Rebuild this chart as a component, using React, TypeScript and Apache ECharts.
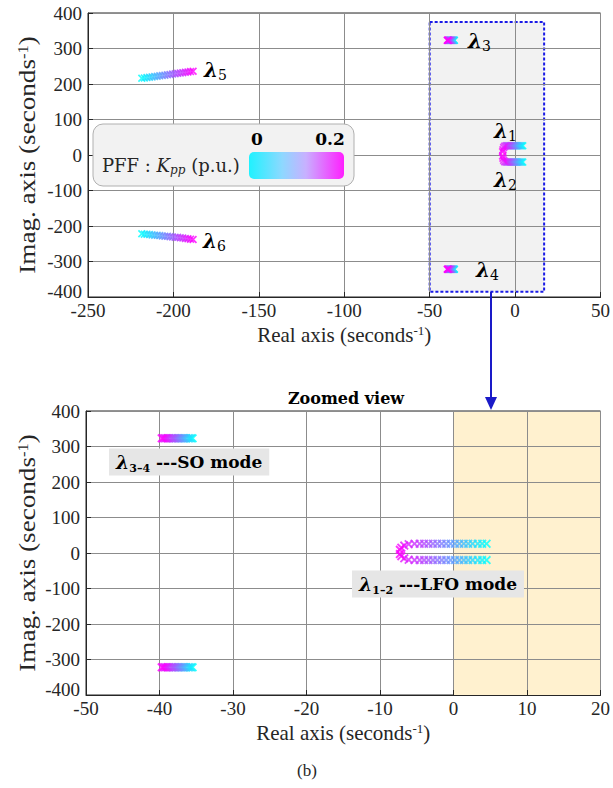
import React, { useEffect, useRef } from 'react';
import * as echarts from 'echarts';

// Gain sweep (PFF: Kpp, p.u.)
const kpp = [0, 0.01, 0.02, 0.03, 0.04, 0.05, 0.06, 0.07, 0.08, 0.09, 0.1, 0.11, 0.12, 0.13, 0.14, 0.15, 0.16, 0.17, 0.18, 0.19, 0.2];

// λ1 / λ2 : LFO mode
const lambda1Re = [4.5, 3.9, 3.3, 2.6, 2.0, 1.4, 0.8, 0.2, -0.4, -1.0, -1.6, -2.2, -2.8, -3.4, -4.0, -4.6, -5.3, -6.1, -6.7, -7.1, -7.3];
const lambda1Im = [26, 26, 26, 26, 26, 26, 26, 26, 26, 26, 26, 26, 26, 26, 26, 26, 26, 25, 21, 15, 9];
const lambda2Re = [4.5, 3.9, 3.3, 2.6, 2.0, 1.4, 0.8, 0.2, -0.4, -1.0, -1.6, -2.2, -2.8, -3.4, -4.0, -4.6, -5.3, -6.1, -6.7, -7.1, -7.3];
const lambda2Im = [-20, -20, -20, -20, -20, -20, -20, -20, -20, -20, -20, -20, -20, -20, -20, -20, -20, -19, -15, -9, -3];

// λ3 / λ4 : SO mode
const lambda3Re = [-35.5, -35.7, -35.9, -36.1, -36.4, -36.6, -36.8, -37.0, -37.2, -37.4, -37.6, -37.8, -38.0, -38.2, -38.4, -38.7, -38.9, -39.1, -39.3, -39.5, -39.7];
const lambda3Im = [323, 323, 323, 323, 323, 323, 323, 323, 323, 323, 323, 323, 323, 323, 323, 323, 323, 323, 323, 323, 323];
const lambda4Re = [-35.5, -35.7, -35.9, -36.1, -36.4, -36.6, -36.8, -37.0, -37.2, -37.4, -37.6, -37.8, -38.0, -38.2, -38.4, -38.7, -38.9, -39.1, -39.3, -39.5, -39.7];
const lambda4Im = [-322, -322, -322, -322, -322, -322, -322, -322, -322, -322, -322, -322, -322, -322, -322, -322, -322, -322, -322, -322, -322];

// λ5 / λ6
const lambda5Re = [-218.5, -217.0, -215.5, -214.0, -212.5, -211.0, -209.5, -208.0, -206.5, -205.0, -203.5, -202.0, -200.5, -199.0, -197.5, -196.0, -194.5, -193.0, -191.5, -190.0, -188.5];
const lambda5Im = [216, 217, 218, 219, 220, 221, 222, 223, 224, 225, 226, 227, 228, 229, 230, 231, 232, 233, 234, 235, 236];
const lambda6Re = [-218.5, -217.0, -215.5, -214.0, -212.5, -211.0, -209.5, -208.0, -206.5, -205.0, -203.5, -202.0, -200.5, -199.0, -197.5, -196.0, -194.5, -193.0, -191.5, -190.0, -188.5];
const lambda6Im = [-222, -223, -223, -224, -225, -226, -226, -227, -228, -229, -229, -230, -231, -232, -232, -233, -234, -235, -236, -237, -238];

// Axes
const topXTicks = [-250, -200, -150, -100, -50, 0, 50];
const bottomXTicks = [-50, -40, -30, -20, -10, 0, 10, 20];
const yTicks = [-400, -300, -200, -100, 0, 100, 200, 300, 400];

// Highlight regions
const topBox = [[-50, 375], [17, -385]];
const bottomRhp = [[0, 400], [20, -400]];

const FONT = "'Liberation Serif', 'Times New Roman', serif";
const BFONT = "'DejaVu Serif', serif";
const TXT = '#262626';
const CROSS = 'path://M0,1.5 L1.5,0 L5,3.5 L8.5,0 L10,1.5 L6.5,5 L10,8.5 L8.5,10 L5,6.5 L1.5,10 L0,8.5 L3.5,5 Z';

const pts = (re: number[], im: number[]) => re.map((r, i) => [r, im[i], kpp[i]]);

export default function App() {
  const ref = useRef<HTMLDivElement>(null);
  useEffect(() => {
    if (!ref.current) return;
    const chart = echarts.init(ref.current, null, { renderer: 'svg' });

    const nameRich = (size: number) => ({
      a: { fontFamily: FONT, fontSize: size, fill: TXT, color: TXT, lineHeight: size },
      s: { fontFamily: FONT, fontSize: Math.round(size * 0.6), fill: TXT, color: TXT, lineHeight: Math.round(size * 0.6), verticalAlign: 'top' },
    });

    const labelStyle = {
      color: TXT, fontFamily: FONT, fontSize: 19, lineHeight: 19,
    };

    const xAxisBase = (gridIndex: number, ticks: number[], nameGap: number) => ({
      gridIndex,
      type: 'value',
      min: ticks[0],
      max: ticks[ticks.length - 1],
      interval: ticks[1] - ticks[0],
      z: 2,
      axisLine: { onZero: false, lineStyle: { color: TXT, width: 1 } },
      axisTick: { inside: true, length: 5, lineStyle: { color: TXT } },
      axisLabel: { ...labelStyle, margin: 4 },
      splitLine: { show: true, lineStyle: { color: '#8c8c8c', width: 1 } },
      name: '{a|Real axis (seconds}{s|-1}{a|)}',
      nameLocation: 'middle',
      nameGap,
      nameMoveOverlap: false,
      nameTextStyle: { rich: nameRich(21) },
    });
    const yAxisBase = (gridIndex: number) => ({
      gridIndex,
      type: 'value',
      min: yTicks[0],
      max: yTicks[yTicks.length - 1],
      interval: yTicks[1] - yTicks[0],
      z: 2,
      axisLine: { onZero: false, lineStyle: { color: TXT, width: 1 } },
      axisTick: { inside: true, length: 5, lineStyle: { color: TXT } },
      axisLabel: {
        ...labelStyle,
        margin: 6,
        formatter: (v: number) => (v === yTicks[0] ? `{m|${v}}` : `${v}`),
        rich: { m: { ...labelStyle, padding: [0, 0, 11, 0] } },
      },
      splitLine: { show: true, lineStyle: { color: '#8c8c8c', width: 1 } },
    });

    const modes: [number[], number[]][] = [
      [lambda1Re, lambda1Im],
      [lambda2Re, lambda2Im],
      [lambda3Re, lambda3Im],
      [lambda4Re, lambda4Im],
      [lambda5Re, lambda5Im],
      [lambda6Re, lambda6Im],
    ];

    const series: any[] = [];
    series.push({
      type: 'scatter', xAxisIndex: 0, yAxisIndex: 0, data: [], z: 1, silent: true,
      markArea: {
        silent: true,
        itemStyle: { color: '#f2f2f2', borderColor: '#1a1ae6', borderWidth: 2, borderType: [3, 2] },
        data: [[{ coord: topBox[0] }, { coord: topBox[1] }]],
      },
    });
    series.push({
      type: 'scatter', xAxisIndex: 1, yAxisIndex: 1, data: [], z: 1, silent: true,
      markArea: {
        silent: true,
        itemStyle: { color: '#fff1cf' },
        data: [[{ coord: bottomRhp[0] }, { coord: bottomRhp[1] }]],
      },
    });
    const scatterIdx: number[] = [];
    modes.forEach(([re, im]) => {
      scatterIdx.push(series.length);
      series.push({
        type: 'scatter', xAxisIndex: 0, yAxisIndex: 0, z: 3,
        symbol: CROSS, symbolSize: 8, data: pts(re, im),
      });
    });
    modes.slice(0, 4).forEach(([re, im]) => {
      scatterIdx.push(series.length);
      series.push({
        type: 'scatter', xAxisIndex: 1, yAxisIndex: 1, z: 3, clip: true,
        symbol: CROSS, symbolSize: 9, data: pts(re, im),
      });
    });

    const yName = (cy: number) => ({
      type: 'text', x: 27, y: cy, z: 100,
      rotation: Math.PI / 2, scaleX: 1.18,
      style: {
        text: '{a|Imag. axis (seconds}{s|-1}{a|)}',
        align: 'center',
        verticalAlign: 'middle',
        rich: nameRich(23),
      },
    });

    const lam = (sub: string, x: number, y: number) => ({
      type: 'text', x, y, z: 100,
      style: {
        text: `{l|λ}{s|${sub}}`,
        verticalAlign: 'middle',
        rich: {
          l: { fontFamily: BFONT, fontStyle: 'italic', fontWeight: 'bold', fontSize: 20, lineHeight: 24, fill: '#000' },
          s: { fontFamily: BFONT, fontSize: 14, lineHeight: 14, verticalAlign: 'bottom', fill: '#000' },
        },
      },
    });

    const boxLabel = (sub: string, rest: string, x: number, y: number) => ({
      type: 'text', x, y, z: 100,
      style: {
        text: `{l|λ}{s|${sub}}{t|${rest}}`,
        verticalAlign: 'middle',
        backgroundColor: '#e6e6e6',
        padding: [2, 7, 2, 7],
        rich: {
          l: { fontFamily: BFONT, fontStyle: 'italic', fontWeight: 'bold', fontSize: 19, lineHeight: 23, fill: '#000' },
          s: { fontFamily: BFONT, fontWeight: 'bold', fontSize: 11, lineHeight: 12, verticalAlign: 'bottom', fill: '#000' },
          t: { fontFamily: BFONT, fontWeight: 'bold', fontSize: 17, lineHeight: 23, fill: '#000' },
        },
      },
    });

    const graphic: any[] = [
      yName(155),
      yName(553),
      // legend box
      {
        type: 'rect', z: 90,
        shape: { x: 93, y: 124, width: 261, height: 62, r: 10 },
        style: { fill: '#f2f2f2', stroke: '#b0b0b0', lineWidth: 1 },
      },
      {
        type: 'rect', z: 91,
        shape: { x: 249, y: 152, width: 95, height: 27, r: 5 },
        style: {
          fill: new echarts.graphic.LinearGradient(0, 0, 1, 0, [
            { offset: 0, color: '#1ff2ff' },
            { offset: 0.35, color: '#8ed8ff' },
            { offset: 0.6, color: '#c8b0ff' },
            { offset: 1, color: '#ff1fff' },
          ]),
        },
      },
      {
        type: 'text', x: 257, y: 139, z: 92,
        style: { text: '0', fontFamily: BFONT, fontWeight: 'bold', fontSize: 17, fill: '#000', align: 'center', verticalAlign: 'middle' },
      },
      {
        type: 'text', x: 330, y: 139, z: 92,
        style: { text: '0.2', fontFamily: BFONT, fontWeight: 'bold', fontSize: 17, fill: '#000', align: 'center', verticalAlign: 'middle' },
      },
      {
        type: 'text', x: 102, y: 165, z: 92,
        style: {
          text: '{n|PFF : }{k|K}{p|pp}{n| (p.u.)}',
          verticalAlign: 'middle',
          rich: {
            n: { fontFamily: BFONT, fontSize: 18, lineHeight: 22, fill: TXT },
            k: { fontFamily: BFONT, fontStyle: 'italic', fontSize: 18, lineHeight: 22, fill: TXT },
            p: { fontFamily: BFONT, fontStyle: 'italic', fontSize: 12, lineHeight: 12, verticalAlign: 'bottom', fill: TXT },
          },
        },
      },
      // lambda labels (top plot)
      lam('5', 204, 70),
      lam('6', 203, 241),
      lam('3', 468, 41),
      lam('4', 476, 270),
      lam('1', 494, 131),
      lam('2', 494, 180),
      // arrow
      {
        type: 'line', z: 95,
        shape: { x1: 491, y1: 292, x2: 491, y2: 400 },
        style: { stroke: '#1a1ac8', lineWidth: 2 },
      },
      {
        type: 'polygon', z: 95,
        shape: { points: [[485, 397], [497, 397], [491, 410]] },
        style: { fill: '#1a1ac8' },
      },
      // zoomed view title
      {
        type: 'text', x: 346, y: 398, z: 95,
        style: { text: 'Zoomed view', fontFamily: BFONT, fontWeight: 'bold', fontSize: 16, fill: '#000', align: 'center', verticalAlign: 'middle' },
      },
      boxLabel('3–4', ' ---SO mode', 109, 462),
      boxLabel('1–2', ' ---LFO mode', 352, 584),
      {
        type: 'text', x: 307, y: 770, z: 95,
        style: { text: '(b)', fontFamily: FONT, fontSize: 17, fill: TXT, align: 'center', verticalAlign: 'middle' },
      },
    ];

    chart.setOption({
      animation: false,
      backgroundColor: '#ffffff',
      grid: [
        { left: 88, top: 13, width: 517, height: 284, show: true, borderColor: TXT, borderWidth: 1, backgroundColor: '#fff' },
        { left: 86, top: 411, width: 518, height: 284, show: true, borderColor: TXT, borderWidth: 1, backgroundColor: '#fff' },
      ],
      xAxis: [xAxisBase(0, topXTicks, 27), xAxisBase(1, bottomXTicks, 27)],
      yAxis: [yAxisBase(0), yAxisBase(1)],
      visualMap: {
        type: 'continuous', show: false, dimension: 2, min: kpp[0], max: kpp[kpp.length - 1],
        seriesIndex: scatterIdx,
        inRange: { color: ['#00ffff', '#ff00ff'] },
      },
      series,
      graphic,
    });

    return () => chart.dispose();
  }, []);

  return <div ref={ref} style={{ position: 'absolute', left: 0, top: 0, width: 613, height: 788, background: '#fff' }} />;
}
